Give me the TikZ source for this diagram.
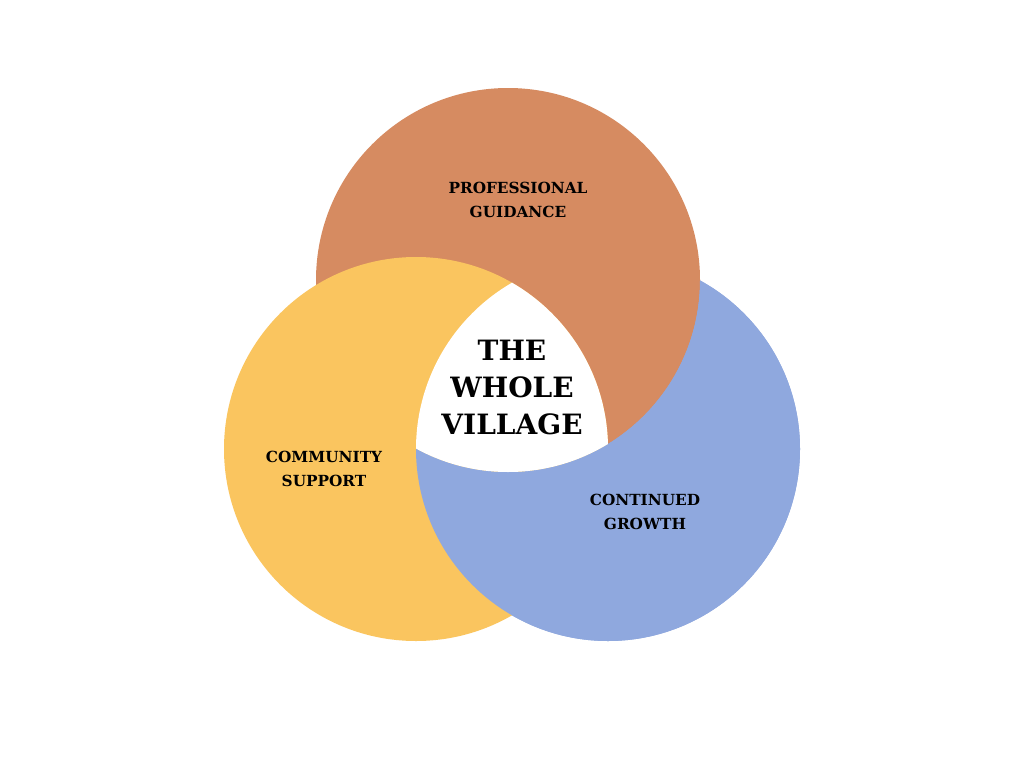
\documentclass[tikz,border=0pt]{standalone}
\usepackage{fontspec}
\setmainfont{DejaVu Serif}
\definecolor{corange}{HTML}{D68B61}
\definecolor{cyellow}{HTML}{FAC55F}
\definecolor{cblue}{HTML}{8FA8DE}
\begin{document}
\begin{tikzpicture}[x=1pt,y=-1pt,
  lbl/.style={align=center,font=\bfseries\fontsize{15.3}{24}\selectfont,text=black},
  big/.style={align=center,font=\bfseries\fontsize{28}{37}\selectfont,text=black}]
\useasboundingbox (0,0) rectangle (1024,768);
\fill[white] (0,0) rectangle (1024,768);
\def\rr{192}
\coordinate (O) at (508,280);
\coordinate (Y) at (416,449);
\coordinate (B) at (608,449);
% base layers
\fill[cblue] (B) circle (\rr);
\fill[corange] (O) circle (\rr);
\fill[cyellow] (Y) circle (\rr);
% blue over yellow, outside orange
\begin{scope}
  \clip (B) circle (\rr);
  \fill[cblue,even odd rule] (O) circle (\rr) (-10,-10) rectangle (1034,778);
\end{scope}
% common centre
\begin{scope}
  \clip (Y) circle (\rr);
  \clip (O) circle (\rr);
  \fill[white] (B) circle (\rr);
\end{scope}
\node[lbl] (pg) at (518,200) {PROFESSIONAL\\GUIDANCE};
\node[lbl] (cs) at (324,469) {COMMUNITY\\SUPPORT};
\node[lbl] (cg) at (645,512) {CONTINUED\\GROWTH};
\node[big] (tw) at (512,387) {THE\\WHOLE\\VILLAGE};
\end{tikzpicture}
\end{document}
